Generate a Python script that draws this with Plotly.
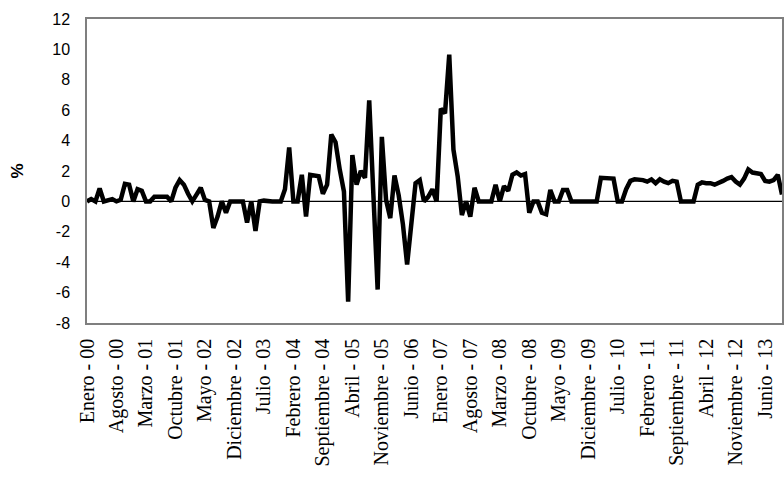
import plotly.graph_objects as go

# Monthly variation (%), Enero 2000 .. Octubre 2013
values = [
    0.0, 0.15, 0.0, 0.85, 0.0, 0.05, 0.15, 0.0, 0.1, 1.15,
    1.1, 0.0, 0.8, 0.7, 0.0, 0.0, 0.3, 0.3, 0.3, 0.3,
    0.0, 0.9, 1.4, 1.1, 0.5, 0.0, 0.45, 0.9, 0.1, 0.0,
    -1.75, -1.0, 0.0, -0.75, 0.0, 0.0, 0.0, 0.0, -1.4, 0.0,
    -1.95, 0.0, 0.05, 0.0, 0.0, 0.0, 0.0, 0.8, 3.55, 0.0,
    0.0, 1.75, -1.0, 1.75, 1.7, 1.65, 0.5, 1.1, 4.4, 3.9,
    2.1, 0.65, -6.6, 3.05, 1.1, 2.0, 1.55, 6.65, 0.4, -5.8,
    4.25, 0.1, -1.1, 1.7, 0.4, -1.5, -4.15, -1.5, 1.2, 1.4,
    0.0, 0.3, 0.8, 0.0, 6.1, 5.8, 9.65, 3.4, 1.65, -0.9,
    0.0, -1.0, 0.9, 0.0, 0.0, 0.0, 0.0, 1.1, 0.0, 1.0,
    0.7, 1.75, 1.9, 1.7, 1.8, -0.75, 0.0, 0.0, -0.75, -0.85,
    0.75, 0.0, 0.0, 0.75, 0.75, 0.0, 0.0, 0.0, 0.0, 0.0,
    0.0, 0.0, 1.55, 1.55, 1.55, 1.5, 0.0, 0.0, 0.8, 1.35,
    1.45, 1.45, 1.4, 1.3, 1.45, 1.2, 1.45, 1.3, 1.2, 1.35,
    1.3, 0.0, 0.0, 0.0, 0.0, 1.1, 1.25, 1.2, 1.2, 1.1,
    1.2, 1.35, 1.5, 1.6, 1.3, 1.1, 1.5, 2.1, 1.9, 1.85,
    1.8, 1.35, 1.3, 1.4, 1.75, 0.45,
]

month_names = ["Enero", "Febrero", "Marzo", "Abril", "Mayo", "Junio", "Julio",
               "Agosto", "Septiembre", "Octubre", "Noviembre", "Diciembre"]
start_year = 2000
tick_step = 7

n = len(values)
x_idx = list(range(n))
categories = [f"{month_names[i % 12]} - {(start_year + i // 12) % 100:02d}" for i in x_idx]
tick_positions = x_idx[::tick_step]
tick_labels = [categories[i] for i in tick_positions]

y_ticks = [12, 10, 8, 6, 4, 2, 0, -2, -4, -6, -8]

fig = go.Figure()
fig.add_trace(go.Scatter(
    x=x_idx, y=values, mode="lines",
    line=dict(color="black", width=4.5),
    hoverinfo="skip", showlegend=False,
))

fig.add_hline(y=0, line=dict(color="black", width=1.2), layer="below")

fig.update_layout(
    width=784, height=483,
    margin=dict(l=87, r=2, t=19, b=160),
    paper_bgcolor="white", plot_bgcolor="white",
    showlegend=False,
)

fig.update_xaxes(
    range=[0, n - 1],
    automargin=False,
    tickmode="array", tickvals=tick_positions, ticktext=tick_labels,
    tickangle=-90,
    tickfont=dict(family="Liberation Serif", size=20, color="black"),
    ticks="outside", ticklen=6, tickcolor="rgba(0,0,0,0)",
    showgrid=False, zeroline=False,
    showline=True, linecolor="#7f7f7f", linewidth=1.5, mirror=True,
)
fig.update_yaxes(
    range=[-8, 12],
    automargin=False,
    tickmode="array", tickvals=y_ticks, ticktext=[str(v) for v in y_ticks],
    tickfont=dict(family="Liberation Sans", size=16, color="black"),
    ticks="outside", ticklen=6, tickcolor="rgba(0,0,0,0)",
    ticklabelstandoff=6,
    showgrid=False, zeroline=False,
    showline=True, linecolor="#7f7f7f", linewidth=1.5, mirror=True,
    title=dict(text="<b>%</b>", font=dict(family="Liberation Sans", size=17, color="black"),
               standoff=24),
)

# remove the default 8px page margin so the figure fills the window exactly
fig.write_html(
    "out.html",
    config={"displayModeBar": False},
    post_script="document.body.style.margin='0';document.body.style.overflow='hidden';",
)
